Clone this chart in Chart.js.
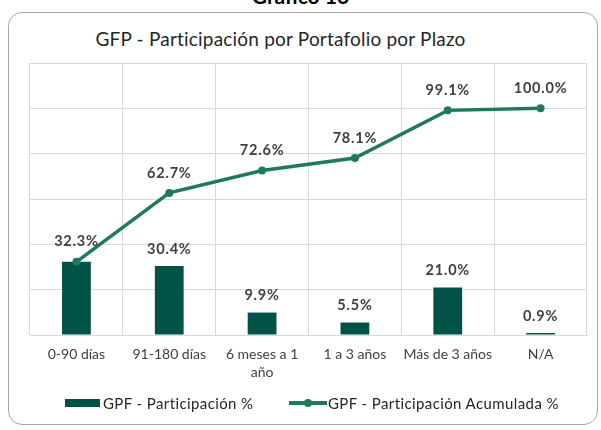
<!DOCTYPE html>
<html><head><meta charset="utf-8">
<script src="https://cdn.jsdelivr.net/npm/chart.js@4.4.1/dist/chart.umd.min.js"></script>
<style>
html,body{margin:0;padding:0;background:#fff;width:601px;height:430px;overflow:hidden;font-family:Lato,"Open Sans",sans-serif;}
#sup{position:absolute;left:0;width:601px;top:-15px;text-align:center;font-weight:bold;font-size:21px;color:#000;line-height:21px}
#box{position:absolute;left:8px;top:12px;width:590px;height:413px;border:1.5px solid #a6a6a6;border-radius:14px;box-sizing:border-box}
#title{position:absolute;left:0;top:28px;width:561px;text-align:center;font-size:19px;color:#262626;line-height:22px;letter-spacing:0.2px}
#c{position:absolute;left:0;top:0}
.lg{position:absolute;top:394px;font-size:15px;color:#262626;line-height:18px;white-space:nowrap;letter-spacing:0.4px}
.sw{position:absolute}
</style></head>
<body>
<div id="sup">Gráfico 16</div>
<div id="box"></div>
<div id="title">GFP - Participación por Portafolio por Plazo</div>
<canvas id="c" width="601" height="430"></canvas>
<div class="sw" style="left:65px;top:399px;width:35px;height:8px;background:#005346"></div>
<div class="lg" style="left:103px">GPF - Participación %</div>
<div class="sw" style="left:289px;top:401px;width:38px;height:4px;background:#1f7a5c"></div>
<div class="sw" style="left:304px;top:399px;width:8px;height:8px;border-radius:4px;background:#1f7a5c"></div>
<div class="lg" style="left:328px">GPF - Participación Acumulada %</div>
<script>
const categories = ["0-90 días", "91-180 días", ["6 meses a 1", "año"], "1 a 3 años", "Más de 3 años", "N/A"];
const participacion = [32.3, 30.4, 9.9, 5.5, 21.0, 0.9];
const acumulada = [32.3, 62.7, 72.6, 78.1, 99.1, 100.0];
const yTicks = [0, 20, 40, 60, 80, 100, 120];

const labelPlugin = {
  id: 'valueLabels',
  afterDatasetsDraw(chart) {
    const ctx = chart.ctx;
    ctx.save();
    ctx.font = 'bold 14.5px Lato';
    ctx.letterSpacing = '0.8px';
    ctx.fillStyle = '#404040';
    ctx.textAlign = 'center';
    ctx.textBaseline = 'middle';
    chart.data.datasets.forEach((ds, di) => {
      const meta = chart.getDatasetMeta(di);
      meta.data.forEach((el, i) => {
        const v = ds.data[i];
        if (ds.type === 'bar' && v === acumulada[i]) return;
        const off = ds.type === 'bar' ? 17 : 20;
        ctx.fillText(v.toFixed(1) + '%', el.x, el.y - off);
      });
    });
    ctx.restore();
  }
};

new Chart(document.getElementById('c'), {
  data: {
    labels: categories,
    datasets: [
      { type: 'line', label: 'GPF - Participación Acumulada %', data: acumulada, order: 0,
        borderColor: '#1f7a5c', backgroundColor: '#1f7a5c', borderWidth: 3.5,
        pointRadius: 4, pointHoverRadius: 4, pointBackgroundColor: '#1f7a5c', pointBorderWidth: 0, tension: 0 },
      { type: 'bar', label: 'GPF - Participación %', data: participacion, order: 1,
        backgroundColor: '#005346', barPercentage: 0.31, categoryPercentage: 1.0 }
    ]
  },
  options: {
    responsive: false,
    animation: false,
    layout: { padding: { left: 30, right: 14, top: 63, bottom: 38 } },
    plugins: { legend: { display: false }, tooltip: { enabled: false }, title: { display: false } },
    scales: {
      x: {
        grid: { color: '#d9d9d9', offset: true, drawTicks: false },
        border: { color: '#d9d9d9' },
        ticks: { color: '#404040', font: { family: 'Lato', size: 14, lineHeight: 1.25 }, padding: 11, maxRotation: 0, autoSkip: false }
      },
      y: {
        min: yTicks[0], max: yTicks[yTicks.length - 1],
        afterBuildTicks(axis) { axis.ticks = yTicks.map(v => ({ value: v })); },
        ticks: { display: false },
        grid: { color: '#d9d9d9', drawTicks: false },
        border: { display: false }
      }
    }
  },
  plugins: [labelPlugin]
});
</script>
</body></html>
